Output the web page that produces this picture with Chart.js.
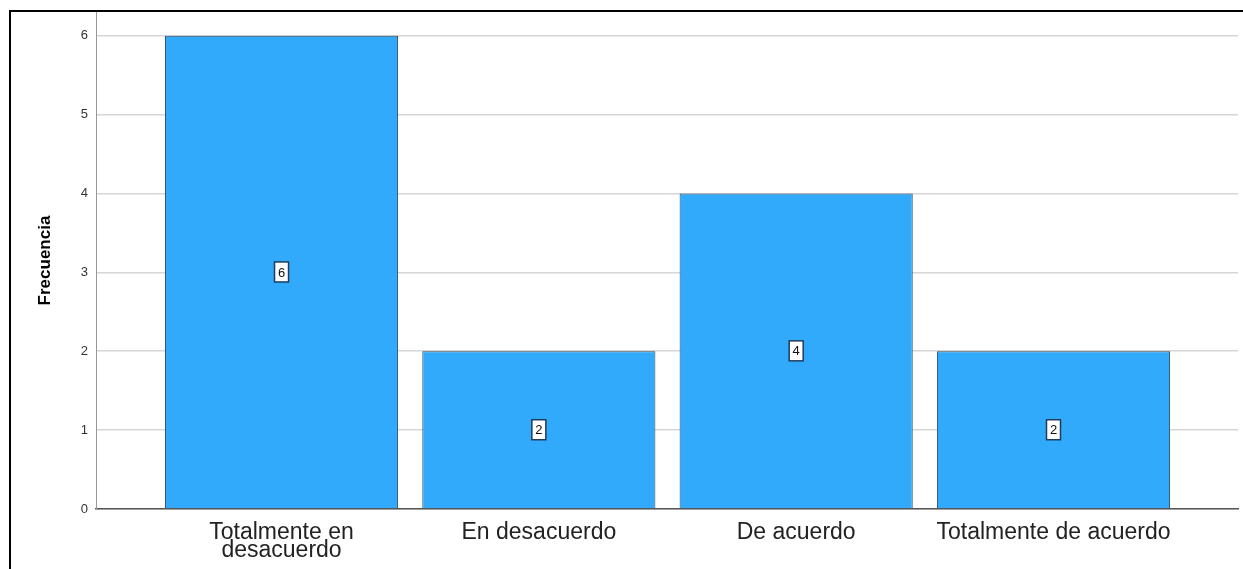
<!DOCTYPE html>
<html>
<head>
<meta charset="utf-8">
<title>Frecuencia</title>
<script src="https://cdn.jsdelivr.net/npm/chart.js@4.4.1/dist/chart.umd.min.js"></script>
<style>
  html, body { margin: 0; padding: 0; background: #fff; }
  #wrap { position: relative; width: 1243px; height: 569px; }
</style>
</head>
<body>
<div id="wrap"><canvas id="freqChart" width="1243" height="569"></canvas></div>
<script>
// ===================== Data =====================
const categories = [["Totalmente en", "desacuerdo"], "En desacuerdo", "De acuerdo", "Totalmente de acuerdo"];
const frequencies = [6, 2, 4, 2];
const yAxisTitle = "Frecuencia";

// ===================== Defaults =====================
Chart.defaults.font.family = 'Arial, "Liberation Sans", sans-serif';
Chart.defaults.color = "#222";

// ===================== Frame (left + top border) =====================
const framePlugin = {
  id: "frame",
  afterDraw(chart) {
    const c = chart.ctx;
    c.save();
    c.strokeStyle = "#000";
    c.lineWidth = 2;
    c.beginPath();
    c.moveTo(10, chart.height);
    c.lineTo(10, 11);
    c.lineTo(chart.width, 11);
    c.stroke();
    c.restore();
  }
};

// ===================== Boxed value labels =====================
const valueLabels = {
  id: "valueLabels",
  afterDatasetsDraw(chart) {
    const c = chart.ctx;
    const meta = chart.getDatasetMeta(0);
    c.save();
    c.font = '13px Arial, "Liberation Sans", sans-serif';
    c.textAlign = "center";
    c.textBaseline = "middle";
    meta.data.forEach((bar, i) => {
      const cx = bar.x;
      const cy = (bar.y + bar.base) / 2;
      const w = 14, h = 20;
      c.fillStyle = "#fff";
      c.fillRect(cx - w / 2, cy - h / 2, w, h);
      c.strokeStyle = "#1d3c5e";
      c.lineWidth = 1.5;
      c.strokeRect(cx - w / 2, cy - h / 2, w, h);
      c.fillStyle = "#111";
      c.fillText(String(frequencies[i]), cx, cy + 1);
    });
    c.restore();
  }
};

// ===================== Chart =====================
const ctx = document.getElementById("freqChart").getContext("2d");
new Chart(ctx, {
  type: "bar",
  data: {
    datasets: [{
      data: frequencies.map((v, i) => ({ x: i, y: v })),
      backgroundColor: "#31aafc",
      borderColor: "#2d4a60",
      borderWidth: 1,
      barPercentage: 0.906,
      categoryPercentage: 1
    }]
  },
  options: {
    responsive: false,
    animation: false,
    layout: { padding: { top: 12, right: 5, left: 0, bottom: 0 } },
    plugins: {
      legend: { display: false },
      tooltip: { enabled: false }
    },
    scales: {
      x: {
        type: "linear",
        offset: false,
        min: -0.721,
        max: 3.717,
        afterFit: (s) => { s.height = 60; },
        grid: { display: false },
        border: { display: true, color: "#555", width: 1.5 },
        ticks: {
          stepSize: 1,
          includeBounds: false,
          autoSkip: false,
          maxRotation: 0,
          padding: 7,
          color: "#222",
          font: { size: 23, lineHeight: "18px" },
          callback: (v) => categories[v] ?? ""
        }
      },
      y: {
        min: 0,
        max: 6.3,
        afterFit: (s) => { s.width = 96; s.paddingTop = 0; s.paddingBottom = 0; },
        grid: { color: "#d6d6d6", lineWidth: 1.5, drawTicks: false },
        border: { display: true, color: "#999", width: 1 },
        ticks: {
          stepSize: 1,
          includeBounds: false,
          padding: 8,
          color: "#333",
          font: { size: 13 }
        },
        title: {
          display: true,
          text: yAxisTitle,
          color: "#000",
          font: { size: 17, weight: "bold" },
          padding: { top: 35, bottom: 0 }
        }
      }
    }
  },
  plugins: [framePlugin, valueLabels]
});
</script>
</body>
</html>
